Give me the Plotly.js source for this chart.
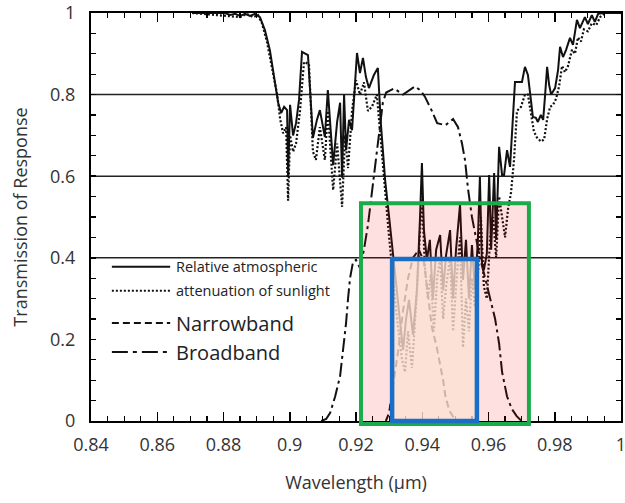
<!DOCTYPE html>
<html>
<head>
<meta charset="utf-8">
<script src="https://cdn.plot.ly/plotly-3.0.1.min.js"></script>
<style>
html,body{margin:0;padding:0;background:#fff;}
#chart{width:625px;height:503px;}
</style>
</head>
<body>
<div id="chart"></div>
<script>
// Relative atmospheric transmission (solid)
const solidX = [0.8705,0.8805,0.8820,0.8835,0.8850,0.8865,0.8880,0.8895,0.8910,0.8925,0.8940,0.8955,0.8965,0.8974,0.8983,0.8992,0.8995,0.9001,0.9010,0.9019,0.9028,0.9037,0.9055,0.9070,0.9082,0.9091,0.9106,0.9115,0.9131,0.9143,0.9152,0.9158,0.9164,0.9170,0.9179,0.9188,0.9194,0.9203,0.9212,0.9221,0.9230,0.9239,0.9254,0.9266,0.9275,0.9288,0.9300,0.9312,0.9327,0.9342,0.9351,0.9360,0.9372,0.9384,0.9393,0.9399,0.9405,0.9414,0.9423,0.9432,0.9442,0.9454,0.9463,0.9472,0.9484,0.9493,0.9502,0.9514,0.9523,0.9532,0.9541,0.9550,0.9559,0.9568,0.9574,0.9580,0.9586,0.9595,0.9602,0.9608,0.9617,0.9623,0.9632,0.9641,0.9647,0.9656,0.9665,0.9674,0.9680,0.9689,0.9701,0.9710,0.9719,0.9728,0.9734,0.9743,0.9749,0.9758,0.9765,0.9771,0.9777,0.9783,0.9789,0.9801,0.9810,0.9816,0.9825,0.9834,0.9846,0.9855,0.9867,0.9876,0.9885,0.9891,0.9900,0.9912,0.9921,0.9931,0.9946,1.0];
const solidY = [1.0,1.0,0.995,0.998,0.993,0.998,0.993,0.998,0.99,0.958,0.909,0.836,0.78,0.755,0.77,0.762,0.598,0.775,0.70,0.73,0.787,0.905,0.897,0.694,0.738,0.762,0.696,0.811,0.627,0.733,0.78,0.596,0.80,0.664,0.738,0.713,0.80,0.902,0.853,0.89,0.843,0.816,0.848,0.865,0.73,0.59,0.50,0.407,0.297,0.174,0.25,0.297,0.211,0.32,0.493,0.632,0.468,0.395,0.444,0.297,0.42,0.456,0.32,0.407,0.468,0.30,0.42,0.53,0.346,0.444,0.30,0.431,0.32,0.444,0.598,0.39,0.37,0.41,0.603,0.42,0.608,0.444,0.672,0.603,0.603,0.664,0.623,0.738,0.831,0.831,0.831,0.868,0.848,0.787,0.745,0.743,0.733,0.75,0.738,0.80,0.868,0.824,0.80,0.816,0.86,0.917,0.892,0.909,0.939,0.922,0.983,0.963,0.978,0.99,0.973,0.995,0.978,0.998,1.0,1.0];

// Attenuation of sunlight (dotted)
const dotX = [0.8705,0.8850,0.8870,0.8890,0.8904,0.8916,0.8931,0.8946,0.8962,0.8971,0.8980,0.8989,0.8995,0.9001,0.9010,0.9019,0.9031,0.9043,0.9058,0.9070,0.9079,0.9091,0.9106,0.9115,0.9131,0.9143,0.9158,0.9167,0.9176,0.9188,0.9200,0.9212,0.9224,0.9236,0.9248,0.9263,0.9275,0.9288,0.9300,0.9312,0.9324,0.9339,0.9348,0.9357,0.9369,0.9381,0.9393,0.9399,0.9408,0.9417,0.9426,0.9435,0.9445,0.9454,0.9463,0.9472,0.9484,0.9493,0.9502,0.9514,0.9523,0.9532,0.9541,0.9550,0.9559,0.9568,0.9577,0.9586,0.9595,0.9605,0.9614,0.9623,0.9632,0.9641,0.9650,0.9659,0.9668,0.9677,0.9686,0.9698,0.9710,0.9719,0.9728,0.9737,0.9746,0.9758,0.9768,0.9777,0.9786,0.9795,0.9804,0.9813,0.9822,0.9831,0.9840,0.9852,0.9861,0.9870,0.9879,0.9888,0.9900,0.9912,0.9925,0.9937,0.9952,1.0];
const dotY = [1.0,0.99,0.998,0.99,0.995,0.975,0.93,0.87,0.80,0.74,0.705,0.72,0.54,0.70,0.66,0.68,0.76,0.88,0.875,0.66,0.64,0.72,0.64,0.76,0.566,0.68,0.525,0.70,0.62,0.76,0.835,0.80,0.83,0.76,0.77,0.80,0.68,0.56,0.45,0.35,0.25,0.15,0.12,0.22,0.13,0.28,0.45,0.55,0.38,0.30,0.36,0.22,0.35,0.40,0.25,0.33,0.40,0.22,0.33,0.45,0.18,0.30,0.22,0.35,0.28,0.36,0.50,0.33,0.30,0.45,0.50,0.40,0.55,0.50,0.45,0.52,0.56,0.64,0.76,0.77,0.80,0.80,0.75,0.71,0.695,0.685,0.69,0.74,0.77,0.775,0.79,0.82,0.87,0.855,0.87,0.91,0.90,0.94,0.93,0.96,0.955,0.975,0.97,0.99,1.0,1.0];

// Narrowband filter response (dashed)
const narrowX = [0.9290,0.9300,0.9312,0.9327,0.9342,0.9357,0.9372,0.9390,0.9405,0.9418,0.9429,0.9444,0.9454,0.9463,0.9470,0.9482,0.9495,0.9510];
const narrowY = [0.0,0.02,0.09,0.17,0.27,0.35,0.40,0.42,0.39,0.31,0.23,0.18,0.14,0.10,0.06,0.025,0.008,0.0];

// Broadband filter response (dash-dot)
const broadX = [0.9095,0.9110,0.9122,0.9137,0.9152,0.9161,0.9170,0.9176,0.9182,0.9191,0.9200,0.9212,0.9224,0.9236,0.9248,0.9260,0.9272,0.9281,0.9291,0.9303,0.9315,0.9342,0.9360,0.9378,0.9395,0.9408,0.9429,0.9445,0.9470,0.9493,0.9508,0.9520,0.9529,0.9538,0.9550,0.9574,0.9590,0.9605,0.9620,0.9632,0.9641,0.9656,0.9670,0.9685,0.9700];
const broadY = [0.0,0.005,0.02,0.06,0.11,0.17,0.24,0.30,0.35,0.39,0.395,0.375,0.42,0.48,0.56,0.64,0.72,0.78,0.805,0.81,0.815,0.80,0.81,0.82,0.81,0.795,0.76,0.73,0.725,0.74,0.72,0.68,0.64,0.57,0.50,0.40,0.35,0.30,0.25,0.19,0.12,0.06,0.03,0.012,0.0];

// Axis ticks
const xTickVals = [0.84,0.86,0.88,0.90,0.92,0.94,0.96,0.98,1.0];
const xTickText = ['0.84','0.86','0.88','0.9','0.92','0.94','0.96','0.98','1'];
const yTickVals = [0,0.2,0.4,0.6,0.8,1];
const yTickText = ['0','0.2','0.4','0.6','0.8','1'];
const gridY = [0.4,0.6,0.8];

// Highlight bands [x0, x1, y0, y1]
const broadBand = [0.9215, 0.9722, -0.0075, 0.534];
const narrowBand = [0.9309, 0.9565, 0.0, 0.397];

// Legend entries
const legendLabels = ['Relative atmospheric','attenuation of sunlight','Narrowband','Broadband'];
const legendY = [0.378, 0.319, 0.240, 0.169];
const legendSizes = [14.5, 14.5, 20, 20];
const legendDash = ['solid','2px,2px','7px,4px','16px,5px,4px,5px'];

const ink = '#111';
const traces = [
  {x: solidX, y: solidY, mode:'lines', line:{color:ink, width:2}, hoverinfo:'skip'},
  {x: dotX, y: dotY, mode:'lines', line:{color:ink, width:2.2, dash:'2px,2px'}, hoverinfo:'skip'},
  {x: narrowX, y: narrowY, mode:'lines', line:{color:ink, width:2, dash:'7px,4px'}, hoverinfo:'skip'},
  {x: broadX, y: broadY, mode:'lines', line:{color:ink, width:2, dash:'14px,4px,3px,4px'}, hoverinfo:'skip'}
];

const shapes = [];
gridY.forEach(v => shapes.push({type:'line', xref:'paper', yref:'y', x0:0, x1:1, y0:v, y1:v, line:{color:'#222', width:1.5}, layer:'below'}));
shapes.push({type:'rect', xref:'x', yref:'paper', x0:broadBand[0], x1:broadBand[1], y0:broadBand[2], y1:broadBand[3],
  fillcolor:'rgba(255,0,0,0.12)', line:{color:'#1aab4b', width:4}, layer:'above'});
shapes.push({type:'rect', xref:'x', yref:'paper', x0:narrowBand[0], x1:narrowBand[1], y0:narrowBand[2], y1:narrowBand[3],
  fillcolor:'rgba(250,226,212,0.78)', line:{color:'#1b6ec6', width:4.5}, layer:'above'});

const annotations = [];
const legendRows = [0, 1, 2, 3];
legendRows.forEach(i => {
  shapes.push({type:'line', xref:'x', yref:'y', x0:0.8463, x1:0.8639, y0:legendY[i], y1:legendY[i],
    line:{color:ink, width:2, dash:legendDash[i]}});
  annotations.push({xref:'x', yref:'y', x:0.8651, y:legendY[i], text:legendLabels[i], showarrow:false,
    xanchor:'left', yanchor:'middle', font:{family:'Open Sans, sans-serif', size:legendSizes[i], color:'#222'}});
});

const tickFont = {family:'Open Sans, sans-serif', size:18, color:'#333'};
const layout = {
  width:625, height:503,
  margin:{l:91, r:4, t:13, b:82},
  paper_bgcolor:'#fff', plot_bgcolor:'#fff',
  showlegend:false,
  xaxis:{range:[0.84,1.0], tickvals:xTickVals, ticktext:xTickText, ticks:'inside', ticklen:9, tickwidth:1.5, tickcolor:'#000',
    minor:{dtick:0.005, tick0:0.84, ticks:'inside', ticklen:5, tickwidth:1.2, tickcolor:'#000', showgrid:false},
    showline:true, linewidth:2, linecolor:'#000', mirror:'ticks', showgrid:false, zeroline:false,
    tickfont:tickFont, ticklabelstandoff:6, ticklabeloverflow:'allow',
    title:{text:'Wavelength (µm)', font:{family:'Open Sans, sans-serif', size:18, color:'#333'}, standoff:22}},
  yaxis:{range:[0,1.0], tickvals:yTickVals, ticktext:yTickText, ticks:'inside', ticklen:5, tickwidth:1.5, tickcolor:'#000',
    minor:{dtick:0.05, tick0:0, ticks:'inside', ticklen:5, tickwidth:1.2, tickcolor:'#000', showgrid:false},
    showline:true, linewidth:2, linecolor:'#000', mirror:'ticks', showgrid:false, zeroline:false,
    tickfont:tickFont, ticklabelstandoff:10, ticklabeloverflow:'allow',
    title:{text:'Transmission of Response', font:{family:'Open Sans, sans-serif', size:18, color:'#333'}, standoff:18}},
  shapes:shapes,
  annotations:annotations
};

Plotly.newPlot('chart', traces, layout, {staticPlot:true, displayModeBar:false});
</script>
</body>
</html>
